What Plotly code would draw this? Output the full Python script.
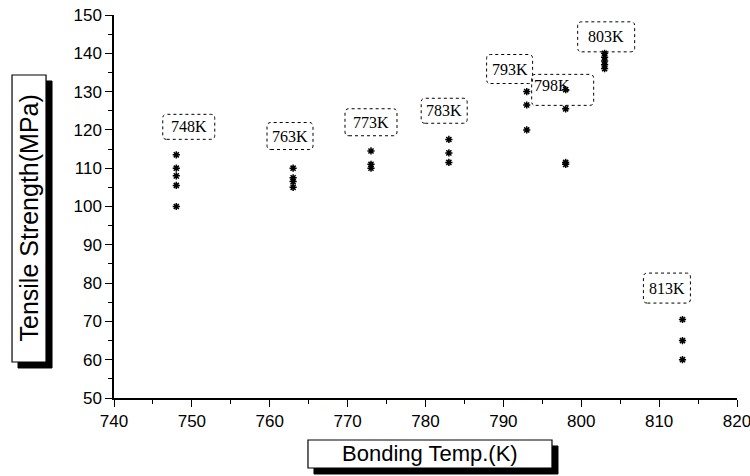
import plotly.graph_objects as go

# ---- data ----
temps = [748, 763, 773, 783, 793, 798, 803, 813]
strength_748 = [113.5, 110, 108, 105.5, 100]
strength_763 = [110, 107.5, 106.5, 105]
strength_773 = [114.5, 111, 110]
strength_783 = [117.5, 114, 111.5]
strength_793 = [130, 126.5, 120]
strength_798 = [130.5, 125.5, 111.5, 111]
strength_803 = [140, 139, 138, 137, 136]
strength_813 = [70.5, 65, 60]
strength_groups = [strength_748, strength_763, strength_773, strength_783,
                   strength_793, strength_798, strength_803, strength_813]

label_text = ["748K", "763K", "773K", "783K", "793K", "798K", "803K", "813K"]
label_x = [749.6, 762.6, 773.0, 782.4, 790.8, 796.2, 803.2, 811.0]
label_y = [120.8, 118.4, 122.0, 125.0, 135.9, 131.5, 144.3, 78.7]

x_ticks = [740, 750, 760, 770, 780, 790, 800, 810, 820]
y_ticks = [50, 60, 70, 80, 90, 100, 110, 120, 130, 140, 150]

x_title = "Bonding Temp.(K)"
y_title = "Tensile Strength(MPa)"

# ---- styles ----
box_w = [52, 46, 52, 46, 46, 62, 57, 47]
box_h = [25, 27, 27, 25, 29, 31, 30, 30]
box_dx = [0, 0, 0, 0, 0, 11, 0, 0]
box_dy = [0, 0, 0, 0, 0, -4, 0, 0]

xs, ys = [], []
for t, g in zip(temps, strength_groups):
    xs += [t] * len(g)
    ys += g

fig = go.Figure()
fig.add_trace(go.Scatter(
    x=xs, y=ys, mode="markers",
    marker=dict(symbol="asterisk-open", size=6, color="black",
                line=dict(color="black", width=1.5)),
    showlegend=False, hoverinfo="skip"))


def rounded(x0, y0, x1, y1, r):
    return (f"M{x0 + r},{y0} L{x1 - r},{y0} Q{x1},{y0} {x1},{y0 + r} "
            f"L{x1},{y1 - r} Q{x1},{y1} {x1 - r},{y1} L{x0 + r},{y1} "
            f"Q{x0},{y1} {x0},{y1 - r} L{x0},{y0 + r} Q{x0},{y0} {x0 + r},{y0} Z")


for i, t in enumerate(label_text):
    w, h = box_w[i], box_h[i]
    dx, dy = box_dx[i], box_dy[i]
    fig.add_shape(type="path", xref="x", yref="y",
                  xsizemode="pixel", ysizemode="pixel",
                  xanchor=label_x[i], yanchor=label_y[i],
                  path=rounded(dx - w / 2, dy - h / 2, dx + w / 2, dy + h / 2, 4),
                  line=dict(color="black", width=1, dash="dot"))
    fig.add_annotation(x=label_x[i], y=label_y[i], text=t, showarrow=False,
                       xref="x", yref="y",
                       font=dict(family="Liberation Serif", size=16, color="black"))


def title_box(cx, cy, w, h, off):
    # shadow then white box, in pixels around a paper anchor
    fig.add_shape(type="rect", xref="paper", yref="paper",
                  xsizemode="pixel", ysizemode="pixel", xanchor=cx, yanchor=cy,
                  x0=-w / 2 + off, x1=w / 2 + off, y0=-h / 2 - off, y1=h / 2 - off,
                  fillcolor="black", line=dict(color="black", width=1))
    fig.add_shape(type="rect", xref="paper", yref="paper",
                  xsizemode="pixel", ysizemode="pixel", xanchor=cx, yanchor=cy,
                  x0=-w / 2, x1=w / 2, y0=-h / 2, y1=h / 2,
                  fillcolor="white", line=dict(color="black", width=1.2))


# y axis title box
title_box(-0.1364, 0.4687, 34, 287, 6)
fig.add_annotation(xref="paper", yref="paper", x=-0.1364, y=0.4687,
                   xanchor="center", yanchor="middle", text=y_title,
                   textangle=-90, showarrow=False,
                   font=dict(family="Liberation Sans", size=25, color="black"))
# x axis title box
title_box(0.5072, -0.1462, 244, 28, 6)
fig.add_annotation(xref="paper", yref="paper", x=0.5072, y=-0.1462,
                   xanchor="center", yanchor="middle", text=x_title,
                   showarrow=False,
                   font=dict(family="Liberation Sans", size=22, color="black"))

axis_common = dict(
    showline=True, linecolor="black", linewidth=1.5,
    ticks="outside", ticklen=7, tickwidth=1.3, tickcolor="black",
    showgrid=False, zeroline=False, mirror=False, automargin=False,
    ticklabeloverflow="allow",
    tickfont=dict(family="Liberation Sans", size=17, color="black"),
    minor=dict(ticks="outside", ticklen=4, tickwidth=1, tickcolor="black", dtick=5),
)
fig.update_xaxes(range=[740, 820], tickvals=x_ticks, **axis_common)
fig.update_yaxes(range=[50, 150], tickvals=y_ticks, **axis_common)

fig.update_layout(
    width=750, height=476,
    margin=dict(l=114, r=13, t=15, b=78),
    paper_bgcolor="white", plot_bgcolor="white",
)

fig.write_html("out.html")
